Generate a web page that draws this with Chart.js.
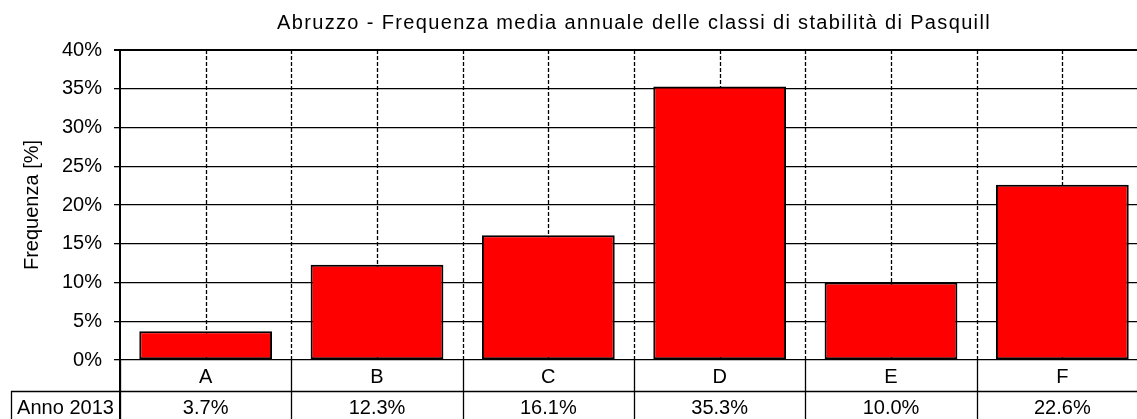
<!DOCTYPE html>
<html lang="it">
<head>
<meta charset="utf-8">
<title>Abruzzo - Classi di stabilità di Pasquill</title>
<script src="https://cdn.jsdelivr.net/npm/chart.js@4.4.1/dist/chart.umd.min.js"></script>
<style>
  html, body { margin: 0; padding: 0; background: #fff; overflow: hidden; width: 1137px; height: 419px; }
  #wrap { position: absolute; left: 0; top: 0; width: 1160px; height: 430px; }
</style>
</head>
<body>
<div id="wrap"><canvas id="chart" width="1160" height="430"></canvas></div>
<script>
// Pasquill stability classes and their mean annual frequency (%)
const classi = ['A', 'B', 'C', 'D', 'E', 'F'];
const frequenza2013 = [3.7, 12.3, 16.1, 35.3, 10.0, 22.6];
const serieLabel = 'Anno 2013';
const yTicks = [0, 5, 10, 15, 20, 25, 30, 35, 40];
const titolo = 'Abruzzo - Frequenza media annuale delle classi di stabilità di Pasquill';
const titoloAsseY = 'Frequenza [%]';

const FONT = '"Liberation Sans", Arial, sans-serif';

// Title, dashed vertical guides and the data table under the plot
const decorPlugin = {
  id: 'decor',
  beforeDatasetsDraw(chart) {
    const {ctx, chartArea} = chart;
    const x = chart.scales.x;
    const step = x.width / classi.length;
    ctx.save();
    ctx.strokeStyle = '#000';
    ctx.lineWidth = 1.3;
    ctx.setLineDash([4, 2]);
    classi.forEach((c, i) => {
      const cx = Math.round(x.getPixelForValue(i)) + 0.5;
      const bx = Math.round(x.getPixelForValue(i) + step / 2) + 0.5;
      ctx.beginPath();
      ctx.moveTo(cx, chartArea.top);
      ctx.lineTo(cx, chartArea.bottom);
      ctx.moveTo(bx, chartArea.top);
      ctx.lineTo(bx, chartArea.bottom);
      ctx.stroke();
    });
    ctx.restore();
  },
  afterDraw(chart) {
    const {ctx, chartArea} = chart;
    const x = chart.scales.x;
    const step = x.width / classi.length;
    const rowH = 31;
    const r0 = chartArea.bottom;
    const r1 = r0 + rowH;
    const r2 = r1 + rowH;
    const labelLeft = 11;

    ctx.save();
    // title
    ctx.fillStyle = '#000';
    ctx.font = '20px ' + FONT;
    ctx.textAlign = 'center';
    ctx.textBaseline = 'middle';
    if ('letterSpacing' in ctx) ctx.letterSpacing = '1.35px';
    ctx.fillText(titolo, (chartArea.left + chartArea.right) / 2, 23);
    if ('letterSpacing' in ctx) ctx.letterSpacing = '0px';

    // table grid
    ctx.strokeStyle = '#000';
    ctx.lineWidth = 1.3;
    ctx.beginPath();
    for (let i = 0; i <= classi.length; i++) {
      const bx = Math.round(chartArea.left + i * step) + 0.5;
      ctx.moveTo(bx, r0);
      ctx.lineTo(bx, r2);
    }
    ctx.moveTo(labelLeft + 0.5, r1);
    ctx.lineTo(labelLeft + 0.5, r2);
    ctx.moveTo(labelLeft, Math.round(r1) + 0.5);
    ctx.lineTo(chartArea.right, Math.round(r1) + 0.5);
    ctx.moveTo(labelLeft, Math.round(r2) + 0.5);
    ctx.lineTo(chartArea.right, Math.round(r2) + 0.5);
    ctx.stroke();

    // left axis continues through the table
    ctx.lineWidth = 2;
    ctx.beginPath();
    ctx.moveTo(chartArea.left, r0);
    ctx.lineTo(chartArea.left, r2);
    ctx.stroke();

    // table text
    ctx.font = '20px ' + FONT;
    ctx.textAlign = 'center';
    ctx.textBaseline = 'middle';
    classi.forEach((c, i) => {
      const cx = x.getPixelForValue(i);
      ctx.fillText(c, cx, r0 + 17);
      ctx.fillText(frequenza2013[i].toFixed(1) + '%', cx, r1 + 17);
    });
    ctx.fillText(serieLabel, (labelLeft + chartArea.left) / 2, r1 + 17);
    ctx.restore();
  }
};

new Chart(document.getElementById('chart'), {
  type: 'bar',
  data: {
    labels: classi,
    datasets: [{
      label: serieLabel,
      data: frequenza2013,
      backgroundColor: '#ff0000',
      borderColor: '#000',
      borderWidth: 2,
      borderSkipped: false,
      barPercentage: 0.775,
      categoryPercentage: 1
    }]
  },
  options: {
    responsive: false,
    animation: false,
    devicePixelRatio: 1,
    layout: { padding: { top: 50, right: 12, left: 0, bottom: 0 } },
    plugins: {
      legend: { display: false },
      title: { display: false },
      tooltip: { enabled: false }
    },
    events: [],
    scales: {
      x: {
        type: 'category',
        offset: true,
        grid: { display: false },
        border: { display: false },
        ticks: { display: false },
        afterFit(scale) { scale.height = 70; }
      },
      y: {
        min: 0,
        max: 40,
        afterBuildTicks(scale) { scale.ticks = yTicks.map(v => ({ value: v })); },
        ticks: {
          color: '#000',
          padding: 12,
          font: { family: FONT, size: 20 },
          callback: v => v + '%'
        },
        grid: {
          color: '#000',
          lineWidth: ctx => (ctx.tick && ctx.tick.value === 40 ? 2 : 1.3),
          tickLength: 6,
          tickColor: '#000'
        },
        border: { display: true, color: '#000', width: 2 },
        title: {
          display: true,
          text: titoloAsseY,
          color: '#000',
          font: { family: FONT, size: 20 },
          padding: { top: 20, bottom: 0 }
        },
        afterFit(scale) { scale.width = 120; }
      }
    }
  },
  plugins: [decorPlugin]
});
</script>
</body>
</html>
